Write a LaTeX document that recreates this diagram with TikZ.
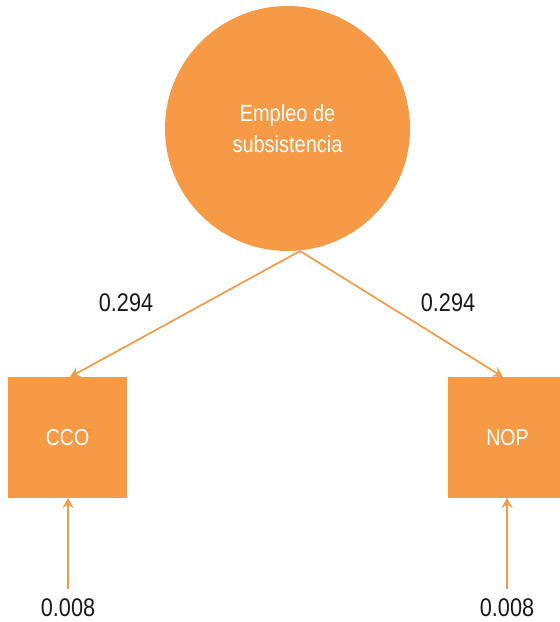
\documentclass[tikz,border=0pt]{standalone}
\usepackage{fontspec}
\setmainfont[FakeStretch=0.85]{Liberation Sans}
\usetikzlibrary{arrows.meta}
\definecolor{orng}{HTML}{F79A46}
\tikzset{
  latent/.style={circle,fill=orng,draw=none,minimum size=245pt,inner sep=0pt,text=white,align=center,font=\fontsize{23.5}{31.5}\selectfont},
  obsbox/.style={rectangle,fill=orng,draw=none,minimum width=119pt,minimum height=121pt,inner sep=0pt,text=white,font=\fontsize{23}{28}\selectfont},
  lbl/.style={text=black!90,font=\fontsize{25.5}{28}\selectfont,inner sep=0pt},
  conn/.style={draw=orng,line width=1.7pt,-{Stealth[length=10pt,width=11pt,inset=3.5pt]}}
}
\begin{document}
\begin{tikzpicture}[x=1pt,y=-1pt]
\useasboundingbox (0,0) rectangle (560,622);
\node[latent] (lat) at (287.5,128.5) {Empleo de\\subsistencia};
\node[obsbox] (cco) at (67.5,437.5) {CCO};
\node[obsbox] (nop) at (507.5,437.5) {NOP};
\coordinate (src) at (300,251);
\coordinate (ccotop) at (70,377);
\coordinate (noptop) at (503,377);
\coordinate (ccobot) at (68,498);
\coordinate (nopbot) at (507,498);
\coordinate (e1) at (68,589);
\coordinate (e2) at (507,589);
\draw[conn] (src) -- (ccotop);
\draw[conn] (src) -- (noptop);
\draw[conn] (e1) -- (ccobot);
\draw[conn] (e2) -- (nopbot);
\node[lbl] (l1) at (126,303) {0.294};
\node[lbl] (l2) at (448,303) {0.294};
\node[lbl] (l3) at (68,608) {0.008};
\node[lbl] (l4) at (507,608) {0.008};
\end{tikzpicture}
\end{document}
